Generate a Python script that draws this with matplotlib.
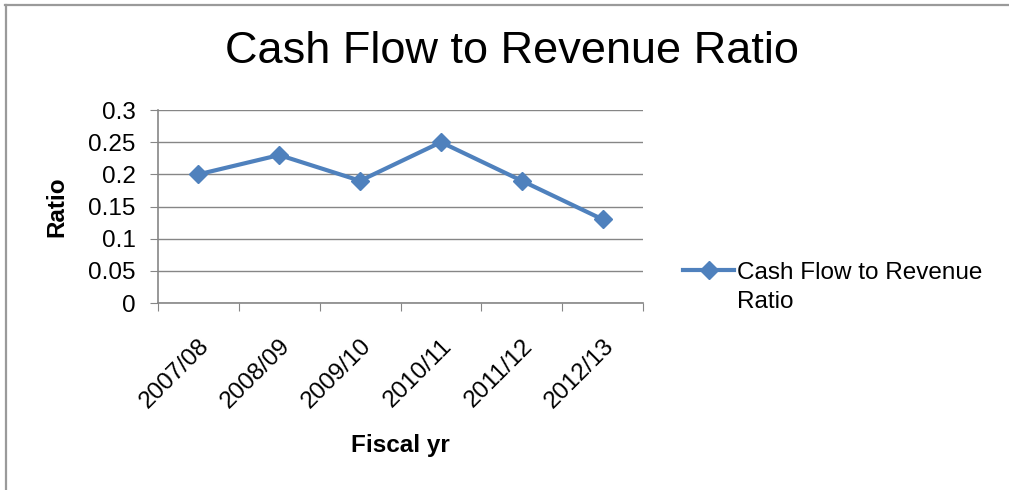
import matplotlib.pyplot as plt
from matplotlib.lines import Line2D
import numpy as np

plt.rcParams['font.family'] = ['Liberation Sans', 'DejaVu Sans']

years = ["2007/08", "2008/09", "2009/10", "2010/11", "2011/12", "2012/13"]
ratio = [0.20, 0.23, 0.19, 0.25, 0.19, 0.13]
yticks = [0, 0.05, 0.1, 0.15, 0.2, 0.25, 0.3]
ytick_labels = ["0", "0.05", "0.1", "0.15", "0.2", "0.25", "0.3"]

FS = 17.5
fig = plt.figure(figsize=(10.09, 4.90), dpi=100)
ax = fig.add_axes([0.1566, 0.3816, 0.4807, 0.3939])

x = np.arange(len(years))
line, = ax.plot(x, ratio, color='#4F81BD', lw=3, marker='D', ms=9.5,
                label="Cash Flow to Revenue")

ax.set_xlim(-0.5, len(years) - 0.5)
ax.set_ylim(0, 0.3)
ax.set_yticks(yticks)
ax.set_yticklabels(ytick_labels, fontsize=FS)
ax.yaxis.grid(True, color='#868686', lw=1)
ax.set_axisbelow(True)

# category ticks on the boundaries, labels at the centres
ax.set_xticks(np.arange(len(years) + 1) - 0.5)
ax.set_xticklabels([])
ax.set_xticks(x, minor=True)
ax.set_xticklabels(years, minor=True, rotation=45, ha='right',
                   rotation_mode='anchor', fontsize=FS)
ax.tick_params(axis='x', which='minor', length=0, pad=23)
ax.tick_params(axis='x', which='major', length=6, color='#868686', direction='out')
ax.tick_params(axis='y', length=6, color='#868686', direction='out', pad=10)

for s in ['top', 'right']:
    ax.spines[s].set_visible(False)
for s in ['left', 'bottom']:
    ax.spines[s].set_color('#868686')
    ax.spines[s].set_linewidth(1.2)

ax.set_ylabel("Ratio", fontsize=FS, fontweight='bold', labelpad=14)
ax.set_xlabel("Fiscal yr", fontsize=FS, fontweight='bold', labelpad=15)

fig.text(0.507, 0.895, "Cash Flow to Revenue Ratio", fontsize=32.5,
         ha='center', va='center')

fig.legend(handles=[line], loc='center left', bbox_to_anchor=(0.677, 0.443),
           frameon=False, fontsize=FS, handlelength=2.1, handletextpad=0.1,
           borderpad=0, borderaxespad=0)
fig.text(0.730, 0.384, "Ratio", fontsize=FS, ha='left', va='center')

# outer chart frame (only top and left edges show)
fig.add_artist(Line2D([0.005, 1.0], [0.99, 0.99], transform=fig.transFigure,
                      color='#9a9a9a', lw=1.6))
fig.add_artist(Line2D([0.0055, 0.0055], [0.0, 0.99], transform=fig.transFigure,
                      color='#9a9a9a', lw=1.6))

fig.savefig("out.png", dpi=100)
